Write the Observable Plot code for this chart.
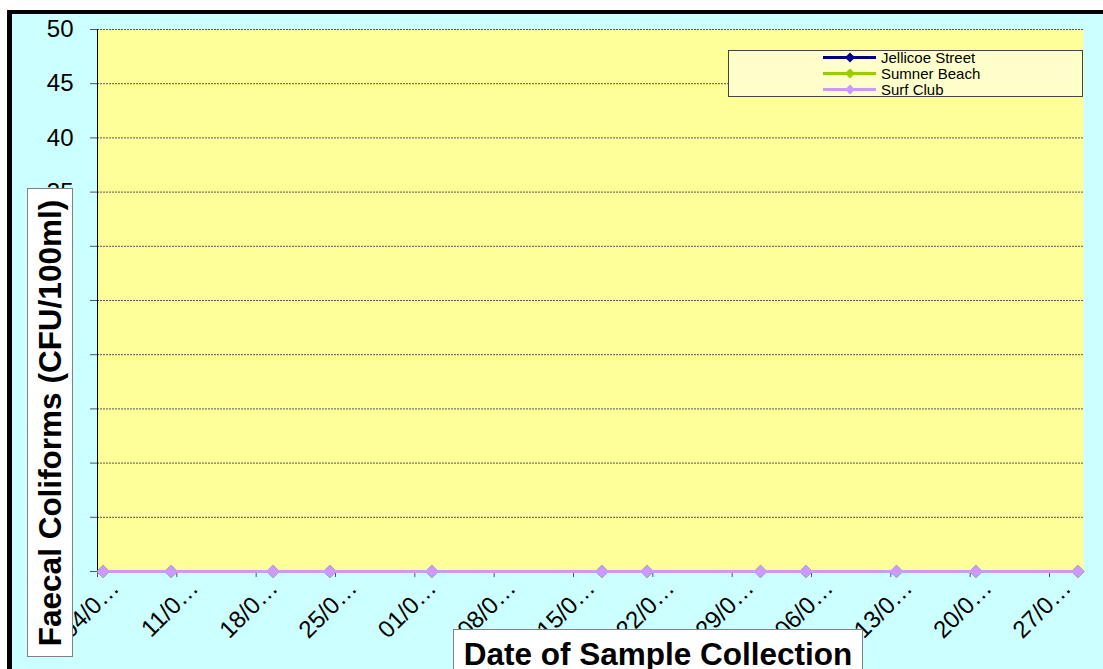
<!DOCTYPE html>
<html><head><meta charset="utf-8">
<script src="https://cdn.jsdelivr.net/npm/d3@7"></script>
<script src="https://cdn.jsdelivr.net/npm/@observablehq/plot@0.6"></script>
<style>
html,body{margin:0;padding:0;background:#fff;overflow:hidden;}
body{width:1103px;height:669px;position:relative;font-family:Arial,"Liberation Sans",sans-serif;}
#frame{position:absolute;left:7px;top:10px;width:1200px;height:800px;border-left:5px solid #000;border-top:4px solid #000;background:#ccffff;}
#chart{position:absolute;left:0;top:0;}
#ytitle{position:absolute;left:27px;top:188px;width:46px;height:469px;background:#fff;border:1px solid #808080;box-sizing:border-box;}
#ytitle span{position:absolute;left:50%;top:50%;transform:translate(-50%,-50%) rotate(-90deg);white-space:nowrap;font-weight:bold;font-size:31.5px;line-height:31px;color:#000;}
#xtitle{position:absolute;left:453px;top:629px;width:410px;height:60px;background:#fff;border:1px solid #808080;box-sizing:border-box;}
#xtitle span{position:absolute;left:0;right:0;top:9px;text-align:center;white-space:nowrap;font-weight:bold;font-size:31.5px;line-height:31px;color:#000;}
#legend{position:absolute;left:728px;top:50px;}
</style>
</head><body>
<div id="frame"></div>
<div id="chart"></div>
<div id="ytitle"><span>Faecal Coliforms (CFU/100ml)</span></div>
<div id="xtitle"><span>Date of Sample Collection</span></div>
<svg id="legend" width="358" height="50"></svg>
<script>
// ---- data ----
const sampleDates = ["2007-03-04","2007-03-10","2007-03-19","2007-03-24","2007-04-02","2007-04-17","2007-04-21","2007-05-01","2007-05-05","2007-05-13","2007-05-20","2007-05-29"];
const jellicoeStreet = [0,0,0,0,0,0,0,0,0,0,0,0];
const sumnerBeach    = [0,0,0,0,0,0,0,0,0,0,0,0];
const surfClub       = [0,0,0,0,0,0,0,0,0,0,0,0];
const seriesNames  = ["Jellicoe Street","Sumner Beach","Surf Club"];
const seriesColors = ["#000080","#99cc00","#cc99ff"];
const tickDates  = ["2007-03-04","2007-03-11","2007-03-18","2007-03-25","2007-04-01","2007-04-08","2007-04-15","2007-04-22","2007-04-29","2007-05-06","2007-05-13","2007-05-20","2007-05-27"];
const tickLabels = ["04/0…","11/0…","18/0…","25/0…","01/0…","08/0…","15/0…","22/0…","29/0…","06/0…","13/0…","20/0…","27/0…"];
const yTicks = [0,5,10,15,20,25,30,35,40,45,50];
const xStart = "2007-03-04", xEnd = "2007-05-30";

// ---- build ----
const seriesValues = [jellicoeStreet, sumnerBeach, surfClub];
const rows = [];
seriesNames.forEach((s, i) => sampleDates.forEach((d, j) => rows.push({series: s, date: new Date(d + "T12:00:00Z"), value: seriesValues[i][j]})));
const ticks = tickDates.map((d, i) => ({date: new Date(d + "T00:00:00Z"), label: tickLabels[i]}));
const diamond = {draw(ctx, size) { const h = Math.sqrt(size / Math.PI); ctx.moveTo(0, -h); ctx.lineTo(h, 0); ctx.lineTo(0, h); ctx.lineTo(-h, 0); ctx.closePath(); }};
const x0 = new Date(xStart + "T00:00:00Z"), x1 = new Date(xEnd + "T00:00:00Z");

const seriesMarks = [];
seriesNames.forEach((s, i) => {
  const data = rows.filter(r => r.series === s);
  seriesMarks.push(Plot.line(data, {x: "date", y: "value", stroke: seriesColors[i], strokeWidth: 3}));
  seriesMarks.push(Plot.dot(data, {x: "date", y: "value", fill: seriesColors[i], stroke: "none", symbol: diamond, r: 6.5}));
});

const chart = Plot.plot({
  width: 1103, height: 669,
  marginLeft: 97, marginRight: 20, marginTop: 29, marginBottom: 98,
  style: {background: "transparent", fontFamily: "Arial, 'Liberation Sans', sans-serif", overflow: "visible", color: "#000"},
  x: {type: "utc", domain: [x0, x1], axis: null},
  y: {domain: [0, 50], axis: null},
  marks: [
    Plot.frame({fill: "#ffff99", stroke: null}),
    Plot.ruleY(yTicks.filter(d => d > 0), {stroke: "#555", strokeDasharray: "2,1", strokeWidth: 1}),
    Plot.axisY({ticks: yTicks, tickSize: 7, tickPadding: 17, fontSize: 24, stroke: "#555", label: null}),
    Plot.axisX({ticks: ticks.map(t => t.date), tickSize: 6, tickFormat: () => "", stroke: "#555", label: null}),
    Plot.text(ticks, {x: "date", text: "label", frameAnchor: "bottom", rotate: -45, textAnchor: "end", dx: 23, dy: 18, fontSize: 24, fill: "#000"}),
    Plot.ruleY([0], {stroke: "#808080"}),
    Plot.ruleX([x0], {stroke: "#000", strokeWidth: 1}),
    ...seriesMarks
  ]
});
document.getElementById("chart").append(chart);

// ---- legend ----
const lg = d3.select("#legend");
lg.append("rect").attr("x", 0.5).attr("y", 0.5).attr("width", 354).attr("height", 46).attr("fill", "#ffffcc").attr("stroke", "#444");
seriesNames.forEach((s, i) => {
  const cy = 7.5 + i * 16;
  lg.append("line").attr("x1", 95).attr("x2", 148).attr("y1", cy).attr("y2", cy).attr("stroke", seriesColors[i]).attr("stroke-width", 3);
  lg.append("path").attr("d", "M0,-5L5,0L0,5L-5,0Z").attr("transform", `translate(122,${cy})`).attr("fill", seriesColors[i]);
  lg.append("text").attr("x", 153).attr("y", cy + 5).attr("font-size", 15).attr("font-family", "Arial, 'Liberation Sans', sans-serif").attr("fill", "#000").text(s);
});
</script>
</body></html>
